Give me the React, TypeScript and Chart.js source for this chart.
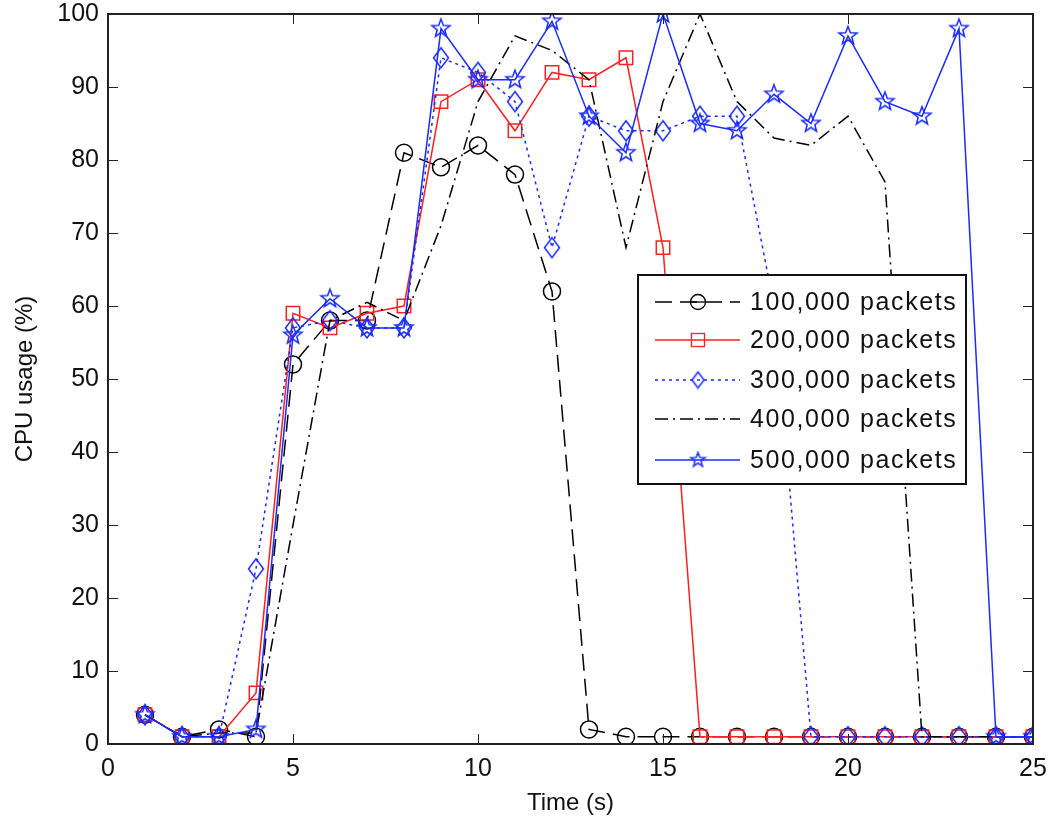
import React, { useEffect, useRef } from "react";
import { Chart, registerables } from "chart.js";

Chart.register(...registerables);

const times = [1, 2, 3, 4, 5, 6, 7, 8, 9, 10, 11, 12, 13, 14, 15, 16, 17, 18, 19, 20, 21, 22, 23, 24, 25];
const s100 = [4, 1, 2, 1, 52, 58, 58, 81, 79, 82, 78, 62, 2, 1, 1, 1, 1, 1, 1, 1, 1, 1, 1, 1, 1];
const s200 = [4, 1, 1, 7, 59, 57, 59, 60, 88, 91, 84, 92, 91, 94, 68, 1, 1, 1, 1, 1, 1, 1, 1, 1, 1];
const s300 = [4, 1, 1, 24, 57, 58, 57, 57, 94, 92, 88, 68, 86, 84, 84, 86, 86, 60, 1, 1, 1, 1, 1, 1, 1];
const s400 = [4, 1, 1.5, 1.5, 30, 58, 60.5, 58, 71, 88, 97, 95, 91, 68, 88, 100, 88, 83, 82, 86, 77, 1, 1, 1, 1];
const s500 = [4, 1, 1, 2, 56, 61, 57, 57, 98, 91, 91, 99, 86, 81, 100, 85, 84, 89, 85, 97, 88, 86, 98, 1, 1];
const seriesLabels = ["100,000 packets", "200,000 packets", "300,000 packets", "400,000 packets", "500,000 packets"];

const BLACK = "#000000";
const RED = "#ff2020";
const BLUE = "#1a2cff";
const FONT = "'Liberation Sans', Arial, Helvetica, sans-serif";

function drawStarPath(ctx: CanvasRenderingContext2D, cx: number, cy: number, ro: number, ri: number) {
  ctx.beginPath();
  for (let i = 0; i < 10; i++) {
    const r = i % 2 === 0 ? ro : ri;
    const a = -Math.PI / 2 + (i * Math.PI) / 5;
    const x = cx + r * Math.cos(a);
    const y = cy + r * Math.sin(a);
    if (i === 0) ctx.moveTo(x, y);
    else ctx.lineTo(x, y);
  }
  ctx.closePath();
}

function drawDiamondPath(ctx: CanvasRenderingContext2D, cx: number, cy: number, hw: number, hh: number) {
  ctx.beginPath();
  ctx.moveTo(cx, cy - hh);
  ctx.lineTo(cx + hw, cy);
  ctx.lineTo(cx, cy + hh);
  ctx.lineTo(cx - hw, cy);
  ctx.closePath();
}

function makeMarker(kind: string, color: string, scale = 1): HTMLCanvasElement {
  const c = document.createElement("canvas");
  const s = Math.round(24 * scale);
  c.width = s;
  c.height = s;
  const ctx = c.getContext("2d")!;
  ctx.strokeStyle = color;
  ctx.lineWidth = 1.5;
  const m = s / 2;
  if (kind === "star") drawStarPath(ctx, m, m, 9.5 * scale, 4 * scale);
  else if (kind === "diamond") drawDiamondPath(ctx, m, m, 7.5 * scale, 10 * scale);
  ctx.stroke();
  return c;
}

export default function App() {
  const ref = useRef<HTMLCanvasElement | null>(null);

  useEffect(() => {
    if (!ref.current) return;
    const diamond = makeMarker("diamond", BLUE);
    const star = makeMarker("star", BLUE);
    const diamondL = makeMarker("diamond", BLUE, 0.8);
    const starL = makeMarker("star", BLUE, 0.8);

    const styles = [
      { color: BLACK, dash: [17, 8], marker: "circle" },
      { color: RED, dash: [], marker: "rect" },
      { color: BLUE, dash: [3, 4], marker: "diamond" },
      { color: BLACK, dash: [13, 5, 2, 5], marker: "none" },
      { color: BLUE, dash: [], marker: "star" },
    ];
    const values = [s100, s200, s300, s400, s500];

    const datasets = values.map((vals, i) => {
      const st = styles[i];
      let pointStyle: any = "circle";
      let radius = 8.5;
      if (st.marker === "rect") { pointStyle = "rect"; radius = 9.5; }
      if (st.marker === "diamond") { pointStyle = diamond; }
      if (st.marker === "star") { pointStyle = star; }
      if (st.marker === "none") { radius = 0; }
      return {
        label: seriesLabels[i],
        data: times.map((t, k) => ({ x: t, y: vals[k] })),
        borderColor: st.color,
        backgroundColor: "rgba(0,0,0,0)",
        borderWidth: 1.5,
        borderDash: st.dash,
        pointStyle,
        pointRadius: radius,
        pointBorderWidth: 1.5,
        pointBorderColor: st.color,
        pointBackgroundColor: "rgba(0,0,0,0)",
        fill: false,
        tension: 0,
        order: 5 - i,
      };
    });

    const boxPlugin = {
      id: "matlabBox",
      afterDraw(chart: any) {
        const ctx = chart.ctx as CanvasRenderingContext2D;
        const { left, right, top, bottom } = chart.chartArea;
        const xs = chart.scales.x;
        const ys = chart.scales.y;
        ctx.save();
        ctx.strokeStyle = "#222";
        ctx.lineWidth = 1;
        ctx.setLineDash([]);
        const tl = 10;
        for (let v = 0; v <= 25; v += 5) {
          const px = Math.round(xs.getPixelForValue(v)) + 0.5;
          ctx.beginPath();
          ctx.moveTo(px, bottom); ctx.lineTo(px, bottom - tl);
          ctx.moveTo(px, top); ctx.lineTo(px, top + tl);
          ctx.stroke();
        }
        for (let v = 0; v <= 100; v += 10) {
          const py = Math.round(ys.getPixelForValue(v)) + 0.5;
          ctx.beginPath();
          ctx.moveTo(left, py); ctx.lineTo(left + tl, py);
          ctx.moveTo(right, py); ctx.lineTo(right - tl, py);
          ctx.stroke();
        }
        ctx.lineWidth = 2;
        ctx.strokeRect(left, top, right - left, bottom - top);

        // legend
        const lx = 638, ly = 275, lw = 328, lh = 209;
        ctx.fillStyle = "#fff";
        ctx.fillRect(lx, ly, lw, lh);
        ctx.lineWidth = 2;
        ctx.strokeStyle = "#111";
        ctx.strokeRect(lx, ly, lw, lh);
        const rows = [302, 340, 380, 419, 460];
        ctx.font = `25px ${FONT}`;
        (ctx as any).letterSpacing = "1.6px";
        ctx.textBaseline = "middle";
        for (let i = 0; i < 5; i++) {
          const st = styles[i];
          const y = rows[i];
          ctx.strokeStyle = st.color;
          ctx.lineWidth = 1.3;
          ctx.setLineDash(st.dash);
          ctx.beginPath();
          ctx.moveTo(655, y); ctx.lineTo(740, y);
          ctx.stroke();
          ctx.setLineDash([]);
          const mx = 698;
          if (st.marker === "circle") {
            ctx.fillStyle = "#fff";
            ctx.beginPath(); ctx.arc(mx, y, 7.5, 0, Math.PI * 2); ctx.stroke();
            ctx.beginPath(); ctx.moveTo(mx - 7.5, y); ctx.lineTo(mx + 7.5, y); ctx.stroke();
          } else if (st.marker === "rect") {
            ctx.strokeRect(mx - 6.5, y - 6.5, 13, 13);
          } else if (st.marker === "diamond") {
            ctx.drawImage(diamondL, mx - diamondL.width / 2, y - diamondL.height / 2);
          } else if (st.marker === "star") {
            ctx.drawImage(starL, mx - starL.width / 2, y - starL.height / 2);
          }
          ctx.fillStyle = "#111";
          ctx.fillText(seriesLabels[i], 750, y + 1);
        }
        ctx.restore();
      },
    };

    const chart = new Chart(ref.current, {
      type: "line",
      data: { datasets: datasets as any },
      plugins: [boxPlugin],
      options: {
        animation: false,
        responsive: true,
        maintainAspectRatio: false,
        layout: { padding: { left: 0, top: 14, right: 19, bottom: 0 } },
        plugins: { legend: { display: false }, tooltip: { enabled: false } },
        scales: {
          x: {
            type: "linear",
            min: 0,
            max: 25,
            afterFit: (s: any) => { s.height = 76; s.paddingLeft = 0; s.paddingRight = 0; },
            grid: { display: false, drawTicks: false },
            border: { display: false },
            ticks: { stepSize: 5, color: "#111", padding: 10, font: { family: FONT, size: 25 } },
            title: { display: true, text: "Time (s)", color: "#111", font: { family: FONT, size: 24 }, padding: { top: 0, bottom: 2 } },
          },
          y: {
            min: 0,
            max: 100,
            afterFit: (s: any) => { s.width = 108; s.paddingTop = 0; s.paddingBottom = 0; },
            grid: { display: false, drawTicks: false },
            border: { display: false },
            ticks: { stepSize: 10, color: "#111", padding: 9, font: { family: FONT, size: 25 } },
            title: { display: true, text: "CPU usage (%)", color: "#111", font: { family: FONT, size: 24 }, padding: { top: 11, bottom: 0 } },
          },
        },
      },
    });
    return () => chart.destroy();
  }, []);

  return (
    <div style={{ position: "fixed", left: 0, top: 0, width: 1052, height: 820, background: "#fff" }}>
      <canvas ref={ref} />
    </div>
  );
}
